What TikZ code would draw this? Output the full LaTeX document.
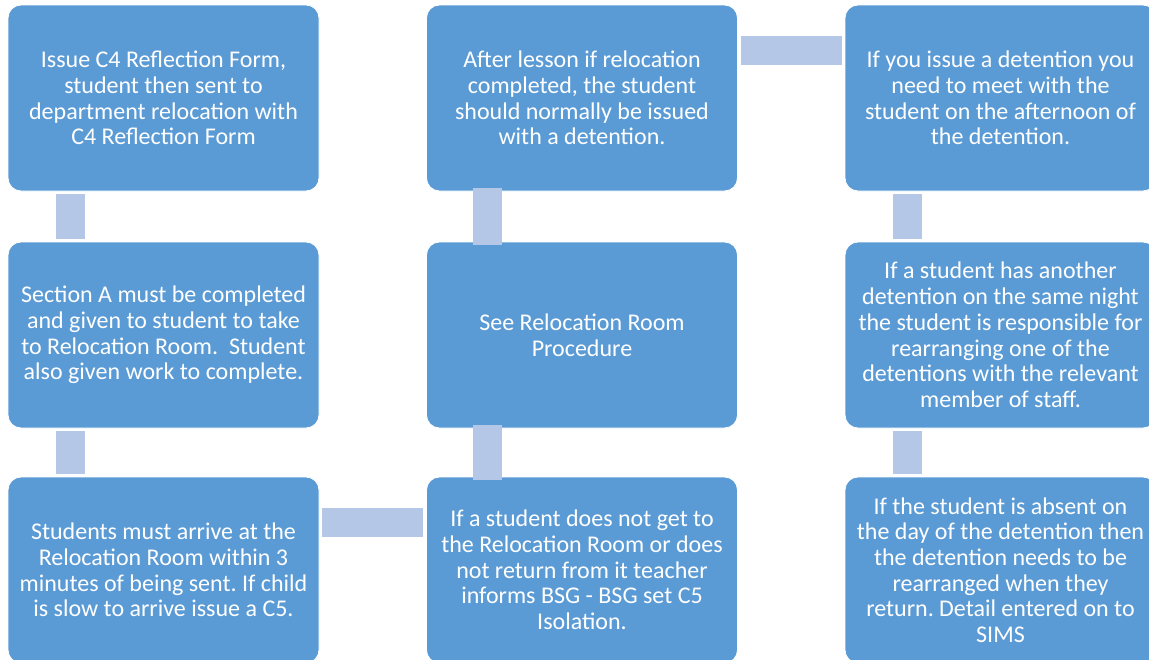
\documentclass[tikz,border=0pt]{standalone}
\usepackage{fontspec}
\setmainfont{Carlito}
\frenchspacing
\definecolor{boxblue}{HTML}{5B9BD5}
\definecolor{connblue}{HTML}{B4C7E7}
\begin{document}
\begin{tikzpicture}[x=1pt,y=-1pt,
  stepbox/.style={draw=white,line width=0.8pt,fill=boxblue,rounded corners=13pt,
    minimum width=311pt,minimum height=186pt,inner sep=0pt,text=white,align=center,
    font=\fontsize{24}{25.7}\selectfont},
  conn/.style={draw=connblue,line width=29pt,line cap=butt}]
\useasboundingbox (0,0) rectangle (1149,659);
\node[stepbox] (a1) at (163.5,98) {Issue C4 Reflection Form,\\student then sent to\\department relocation with\\C4 Reflection Form};
\node[stepbox] (a2) at (163.5,335) {Section A must be completed\\and given to student to take\\to Relocation Room.\ \ Student\\also given work to complete.};
\node[stepbox] (a3) at (163.5,570) {Students must arrive at the\\Relocation Room within 3\\minutes of being sent. If child\\is slow to arrive issue a C5.};
\node[stepbox] (b1) at (582,98) {After lesson if relocation\\completed, the student\\should normally be issued\\with a detention.};
\node[stepbox] (b2) at (582,335) {See Relocation Room\\Procedure};
\node[stepbox] (b3) at (582,570) {If a student does not get to\\the Relocation Room or does\\not return from it teacher\\informs BSG - BSG set C5\\Isolation.};
\node[stepbox] (c1) at (1000.5,98) {If you issue a detention you\\need to meet with the\\student on the afternoon of\\the detention.};
\node[stepbox] (c2) at (1000.5,335) {If a student has another\\detention on the same night\\the student is responsible for\\rearranging one of the\\detentions with the relevant\\member of staff.};
\node[stepbox] (c3) at (1000.5,570) {If the student is absent on\\the day of the detention then\\the detention needs to be\\rearranged when they\\return. Detail entered on to\\SIMS};
\draw[conn] ([xshift=62.5pt,yshift=-3pt]a1.south west) -- ([xshift=62.5pt,yshift=3pt]a2.north west);
\draw[conn] ([xshift=62.5pt,yshift=-3pt]a2.south west) -- ([xshift=62.5pt,yshift=3pt]a3.north west);
\draw[conn] ([xshift=3pt,yshift=-45.5pt]a3.north east) -- ([xshift=-3pt,yshift=-45.5pt]b3.north west);
\draw[conn] ([xshift=61.5pt,yshift=-3pt]b3.north west) -- ([xshift=61.5pt,yshift=3pt]b2.south west);
\draw[conn] ([xshift=61.5pt,yshift=-3pt]b2.north west) -- ([xshift=61.5pt,yshift=3pt]b1.south west);
\draw[conn] ([xshift=3pt,yshift=-45.5pt]b1.north east) -- ([xshift=-3pt,yshift=-45.5pt]c1.north west);
\draw[conn] ([xshift=62.5pt,yshift=-3pt]c1.south west) -- ([xshift=62.5pt,yshift=3pt]c2.north west);
\draw[conn] ([xshift=62.5pt,yshift=-3pt]c2.south west) -- ([xshift=62.5pt,yshift=3pt]c3.north west);
\end{tikzpicture}
\end{document}
